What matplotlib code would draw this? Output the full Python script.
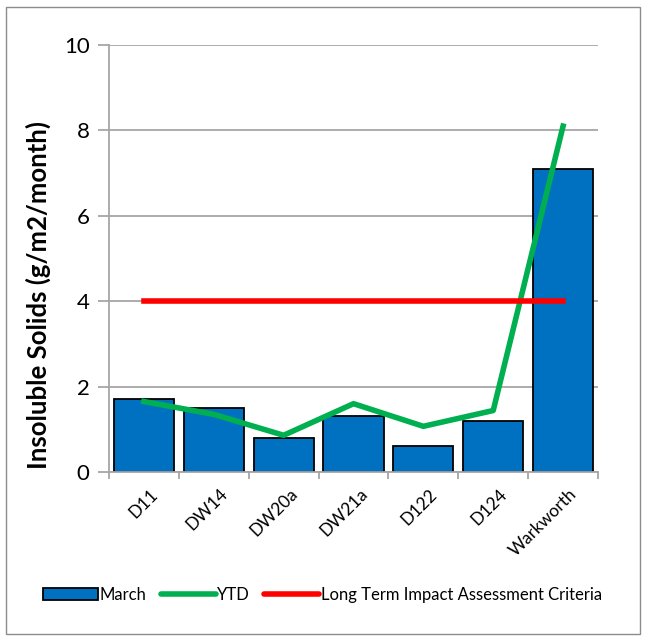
import matplotlib
matplotlib.use("Agg")
import matplotlib.pyplot as plt
from matplotlib.patches import Patch, Rectangle
from matplotlib.lines import Line2D

sites = ["D11", "DW14", "DW20a", "DW21a", "D122", "D124", "Warkworth"]
march = [1.7, 1.5, 0.8, 1.3, 0.6, 1.2, 7.1]
ytd = [1.65, 1.35, 0.86, 1.6, 1.07, 1.44, 8.1]
criteria = [4, 4, 4, 4, 4, 4, 4]

plt.rcParams['font.family'] = ['Lato', 'DejaVu Sans']

fig = plt.figure(figsize=(6.45, 6.41), dpi=100)
ax = fig.add_axes([109 / 645, 1 - 472 / 641, 489 / 645, 427 / 641])

x = list(range(len(sites)))
grid_col = '#A6A6A6'

ax.bar(x, march, width=0.86, color='#0070C0', edgecolor='black', linewidth=1.3, zorder=2)
ax.plot(x, ytd, color='#00B050', linewidth=4, zorder=3)
ax.plot(x, criteria, color='#FF0000', linewidth=4, zorder=3)

ax.set_xlim(-0.5, len(sites) - 0.5)
ax.set_ylim(0, 10)
ax.set_yticks([0, 2, 4, 6, 8, 10])
ax.yaxis.grid(True, color=grid_col, linewidth=1.3, zorder=0)
ax.set_axisbelow(True)

for s in ['top', 'right']:
    ax.spines[s].set_visible(False)
for s in ['left', 'bottom']:
    ax.spines[s].set_color(grid_col)
    ax.spines[s].set_linewidth(1.3)

ax.tick_params(axis='y', direction='out', length=8, color=grid_col, width=1.3, labelsize=16, pad=6)
ax.set_xticks([i + 0.5 for i in range(-1, len(sites))])
ax.set_xticklabels([])
ax.tick_params(axis='x', direction='out', length=5, color=grid_col, width=1.3)
ax.set_xticks([i + 0.08 for i in x], minor=True)
ax.set_xticklabels(sites, minor=True, rotation=45, ha='right', va='top',
                   rotation_mode='anchor', fontsize=12.5)
ax.tick_params(axis='x', which='minor', length=0, pad=10)

ax.set_ylabel('Insoluble Solids (g/m2/month)', fontsize=18.5, fontweight='bold')
ax.yaxis.set_label_coords(-0.118, 0.415)

handles = [Patch(facecolor='#0070C0', edgecolor='black', linewidth=1.3),
           Line2D([0], [0], color='#00B050', linewidth=4, solid_capstyle='round'),
           Line2D([0], [0], color='#FF0000', linewidth=4, solid_capstyle='round')]
fig.legend(handles, ['March', 'YTD', 'Long Term Impact Assessment Criteria'],
           loc='center', bbox_to_anchor=(0.5, 1 - 595 / 641), ncol=3, frameon=False,
           fontsize=12, handlelength=3.3, handletextpad=0.1, columnspacing=0.85)

# chart border
fig.patches.append(Rectangle((6 / 645, 7 / 641), 634 / 645, 627 / 641, transform=fig.transFigure,
                             fill=False, edgecolor='#8C8C8C', linewidth=1))

fig.savefig('out.png', dpi=100)
